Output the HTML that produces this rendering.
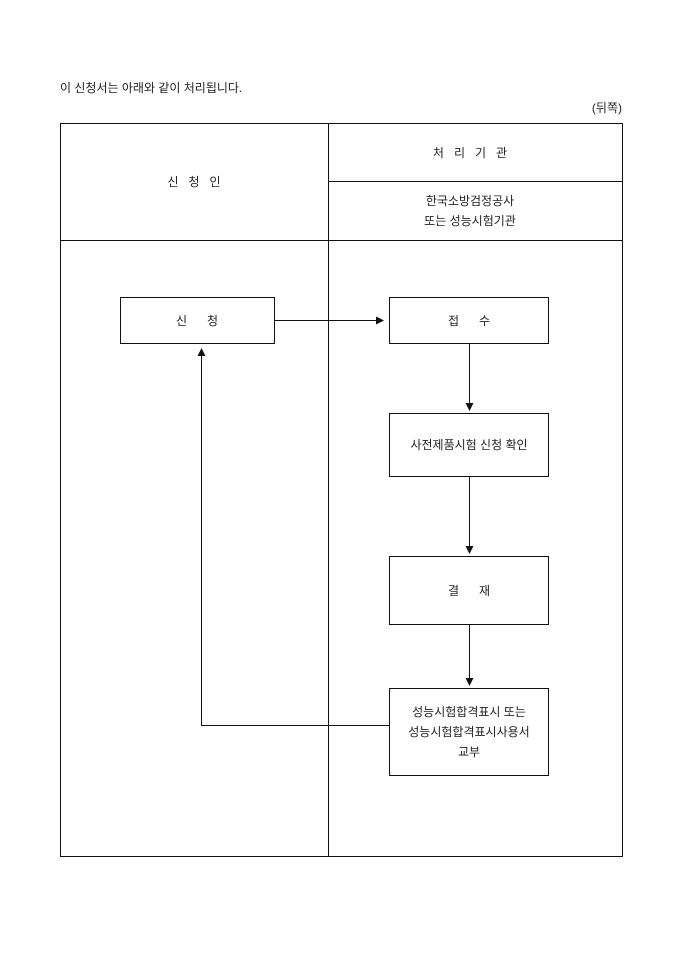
<!DOCTYPE html>
<html><head><meta charset="utf-8"><style>
body{margin:0;background:#fff;width:680px;height:962px;overflow:hidden}
svg text{font-family:"Liberation Sans","Noto Sans CJK KR","NanumGothic",sans-serif;font-size:12px;fill:#222;white-space:pre}
</style></head><body>
<svg width="680" height="962" xmlns="http://www.w3.org/2000/svg">
<defs><marker id="a" markerWidth="8" markerHeight="8" refX="7" refY="4" orient="auto" markerUnits="userSpaceOnUse"><path d="M0,0 L8,4 L0,8 z" fill="#111"/></marker></defs>
<text x="60" y="92" font-size="12.5">이 신청서는 아래와 같이 처리됩니다.</text>
<text x="622" y="112" text-anchor="end">(뒤쪽)</text>
<g stroke="#111" stroke-width="1" fill="none">
<rect x="60.5" y="123.5" width="562" height="733"/>
<line x1="328.5" y1="123" x2="328.5" y2="857"/>
<line x1="328" y1="181.5" x2="623" y2="181.5"/>
<line x1="60" y1="240.5" x2="623" y2="240.5"/>
<rect x="120.5" y="297.5" width="154" height="46"/>
<rect x="389.5" y="297.5" width="159" height="46"/>
<rect x="389.5" y="413.5" width="159" height="63"/>
<rect x="389.5" y="556.5" width="159" height="68"/>
<rect x="389.5" y="688.5" width="159" height="87"/>
<line x1="275" y1="320.5" x2="383" y2="320.5" marker-end="url(#a)"/>
<line x1="469.5" y1="344" x2="469.5" y2="410" marker-end="url(#a)"/>
<line x1="469.5" y1="477" x2="469.5" y2="553" marker-end="url(#a)"/>
<line x1="469.5" y1="625" x2="469.5" y2="685" marker-end="url(#a)"/>
<polyline points="389,725.5 201.5,725.5 201.5,349" marker-end="url(#a)"/>
</g>
<text x="194" y="186" text-anchor="middle">신   청   인</text>
<text x="470" y="157" text-anchor="middle">처   리   기   관</text>
<text x="470" y="205" text-anchor="middle">한국소방검정공사</text>
<text x="470" y="225" text-anchor="middle">또는 성능시험기관</text>
<text x="197" y="325" text-anchor="middle">신      청</text>
<text x="469" y="325" text-anchor="middle">접      수</text>
<text x="469" y="449" text-anchor="middle">사전제품시험 신청 확인</text>
<text x="469" y="595" text-anchor="middle">결      재</text>
<text x="469" y="716" text-anchor="middle">성능시험합격표시 또는</text>
<text x="469" y="736" text-anchor="middle">성능시험합격표시사용서</text>
<text x="469" y="756" text-anchor="middle">교부</text>
</svg>
</body></html>
